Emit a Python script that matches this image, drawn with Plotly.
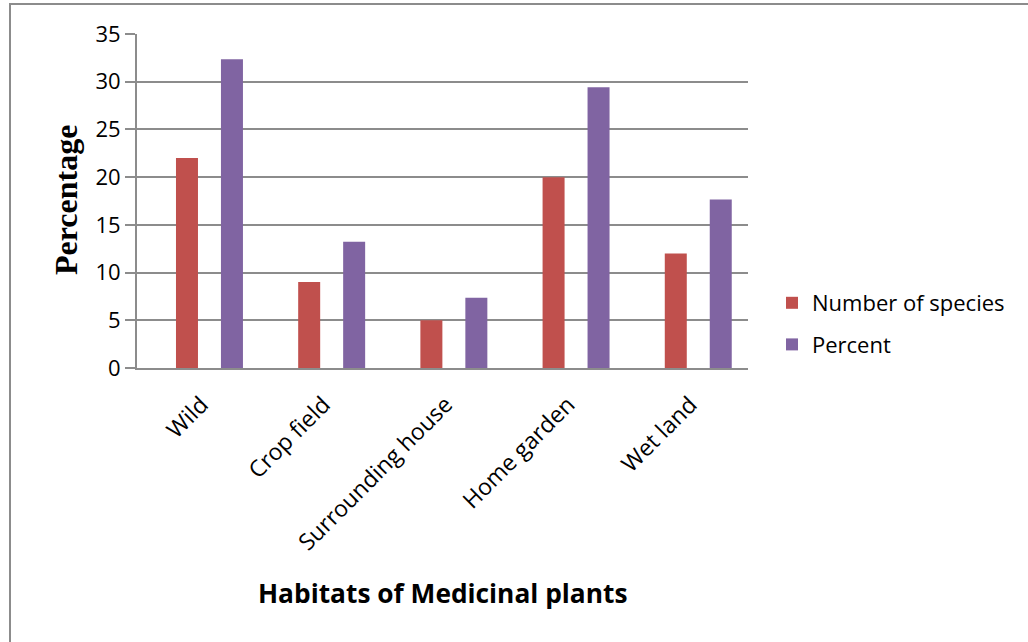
import plotly.graph_objects as go

categories = ["Wild", "Crop field", "Surrounding house", "Home garden", "Wet land"]
number_of_species = [22, 9, 5, 20, 12]
percent = [32.35, 13.24, 7.35, 29.41, 17.65]
y_ticks = [0, 5, 10, 15, 20, 25, 30, 35]

RED = "#C0504D"
PURPLE = "#8064A2"
GRID = "#8C8C8C"
FONT = "Open Sans"

W, H = 1028, 642
L, R, T, B = 137, 748, 34, 368  # plot area in pixels
pw, ph = R - L, B - T

def px(x):
    return (x - L) / pw

def py(y):
    return (B - y) / ph

fig = go.Figure()
fig.add_trace(go.Bar(
    x=categories, y=number_of_species, name="Number of species",
    marker=dict(color=RED, line=dict(width=0)),
    width=0.18, offset=-0.274, legendgroup="a",
))
fig.add_trace(go.Bar(
    x=categories, y=percent, name="Percent",
    marker=dict(color=PURPLE, line=dict(width=0)),
    width=0.18, offset=0.094, legendgroup="b",
))

fig.update_layout(
    width=W, height=H,
    margin=dict(l=L, r=W - R, t=T, b=H - B, pad=0),
    paper_bgcolor="white", plot_bgcolor="white",
    barmode="overlay",
    font=dict(family=FONT, size=22, color="black"),
    showlegend=True,
    legend=dict(
        x=px(772), y=py(324), xanchor="left", yanchor="middle",
        font=dict(family=FONT, size=22, color="black"),
        tracegroupgap=10, itemwidth=30,
        bgcolor="rgba(0,0,0,0)",
    ),
    xaxis=dict(
        type="category", range=[-0.593, 4.407],
        showgrid=False, showline=True, linecolor=GRID, linewidth=2,
        ticks="", tickangle=-45,
        ticklabelstandoff=12, ticklabelshift=-8,
        tickfont=dict(family=FONT, size=23, color="black"),
        zeroline=False,
    ),
    yaxis=dict(
        range=[0, 35], tickvals=y_ticks,
        showgrid=True, gridcolor=GRID, gridwidth=2,
        showline=True, linecolor=GRID, linewidth=2,
        ticks="outside", ticklen=10, tickcolor=GRID, tickwidth=2,
        tickfont=dict(family=FONT, size=22, color="black"),
        zeroline=False,
    ),
    annotations=[
        dict(text="<b>Habitats of Medicinal plants</b>", xref="paper", yref="paper",
             x=0.5, y=py(593), xanchor="center", yanchor="middle", showarrow=False,
             font=dict(family=FONT, size=26.3, color="black")),
        dict(text="<b>Percentage</b>", xref="paper", yref="paper",
             x=px(66), y=py(200), xanchor="center", yanchor="middle", showarrow=False,
             textangle=-90,
             font=dict(family="Liberation Serif", size=32, color="black")),
    ],
    shapes=[
        dict(type="rect", xref="paper", yref="paper",
             x0=px(10), x1=px(1040), y0=py(660), y1=py(4),
             line=dict(color="#8C8C8C", width=2), fillcolor="rgba(0,0,0,0)", layer="below"),
    ],
)

fig.write_html("out.html")
